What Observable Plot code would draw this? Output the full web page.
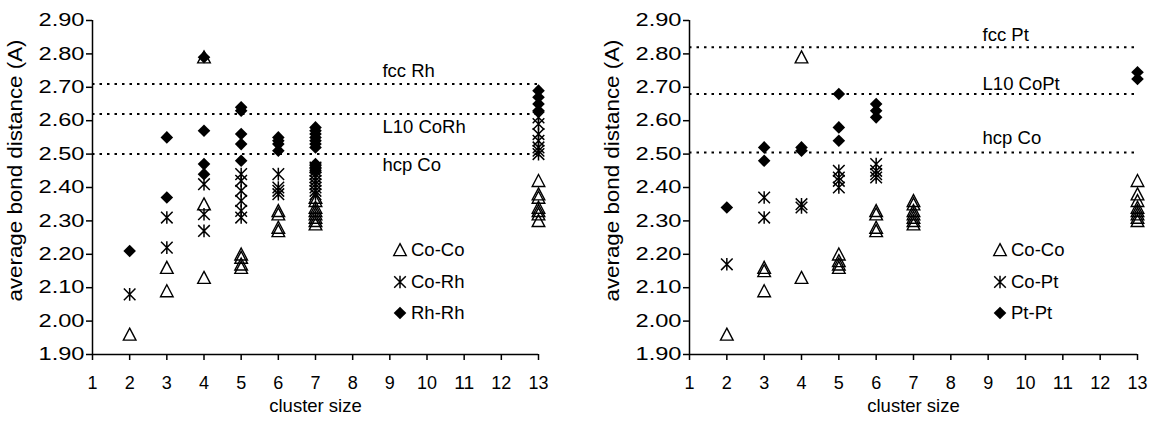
<!DOCTYPE html>
<html>
<head>
<meta charset="utf-8">
<script src="https://cdn.jsdelivr.net/npm/d3@7"></script>
<script src="https://cdn.jsdelivr.net/npm/@observablehq/plot@0.6"></script>
<style>
  html, body { margin: 0; padding: 0; background: #fff; }
  #wrap { position: relative; width: 1150px; height: 425px; display: flex; font-family: "Liberation Sans", Arial, sans-serif; }
  .panel { position: relative; width: 575px; height: 425px; }
  .leg { position: absolute; display: flex; align-items: center; font-size: 18.5px; color: #000; white-space: nowrap; }
  .leg svg { overflow: visible; }
</style>
</head>
<body>
<div id="wrap"><div class="panel" id="left"></div><div class="panel" id="right"></div></div>
<script>
// ---------- data ----------
const xTicks = [1,2,3,4,5,6,7,8,9,10,11,12,13];
const yTicks = [1.9,2.0,2.1,2.2,2.3,2.4,2.5,2.6,2.7,2.8,2.9];

// Co-Rh clusters: [cluster size, average bond distance]
const rhCoCo = [[2,1.96],[3,2.16],[3,2.09],[4,2.79],[4,2.35],[4,2.13],[5,2.20],[5,2.19],[5,2.17],[5,2.16],
  [6,2.33],[6,2.32],[6,2.28],[6,2.27],[7,2.37],[7,2.36],[7,2.34],[7,2.33],[7,2.32],[7,2.31],[7,2.30],[7,2.29],
  [13,2.42],[13,2.38],[13,2.37],[13,2.34],[13,2.33],[13,2.32],[13,2.30]];
const rhCoRh = [[2,2.08],[3,2.31],[3,2.22],[4,2.41],[4,2.32],[4,2.27],[5,2.44],[5,2.42],[5,2.39],[5,2.36],[5,2.33],[5,2.31],
  [6,2.44],[6,2.40],[6,2.39],[6,2.38],[7,2.46],[7,2.45],[7,2.44],[7,2.43],[7,2.42],[7,2.41],[7,2.40],[7,2.39],[7,2.38],
  [13,2.61],[13,2.59],[13,2.56],[13,2.54],[13,2.52],[13,2.51],[13,2.50]];
const rhRhRh = [[2,2.21],[3,2.55],[3,2.37],[4,2.79],[4,2.57],[4,2.47],[4,2.44],[5,2.64],[5,2.63],[5,2.56],[5,2.53],[5,2.48],
  [6,2.55],[6,2.54],[6,2.53],[6,2.51],[7,2.58],[7,2.57],[7,2.56],[7,2.55],[7,2.54],[7,2.53],[7,2.52],[7,2.47],[7,2.46],[7,2.45],
  [13,2.69],[13,2.67],[13,2.65],[13,2.63]];
const rhRefValues = [2.71, 2.62, 2.50];
const rhRefLabels = ["fcc Rh", "L10 CoRh", "hcp Co"];
const rhSeriesNames = ["Co-Co", "Co-Rh", "Rh-Rh"];

// Co-Pt clusters
const ptCoCo = [[2,1.96],[3,2.16],[3,2.15],[3,2.09],[4,2.79],[4,2.13],[5,2.20],[5,2.18],[5,2.17],[5,2.16],
  [6,2.33],[6,2.32],[6,2.28],[6,2.27],[7,2.36],[7,2.35],[7,2.33],[7,2.32],[7,2.31],[7,2.30],[7,2.29],
  [13,2.42],[13,2.38],[13,2.36],[13,2.34],[13,2.33],[13,2.32],[13,2.31],[13,2.30]];
const ptCoPt = [[2,2.17],[3,2.37],[3,2.31],[4,2.35],[4,2.34],[5,2.45],[5,2.43],[5,2.42],[5,2.40],
  [6,2.47],[6,2.45],[6,2.44],[6,2.43]];
const ptPtPt = [[2,2.34],[3,2.52],[3,2.48],[4,2.52],[4,2.51],[5,2.68],[5,2.58],[5,2.54],[6,2.65],[6,2.63],[6,2.61],
  [13,2.745],[13,2.725]];
const ptRefValues = [2.82, 2.68, 2.505];
const ptRefLabels = ["fcc Pt", "L10 CoPt", "hcp Co"];
const ptSeriesNames = ["Co-Co", "Co-Pt", "Pt-Pt"];

// ---------- symbols (Excel-like markers) ----------
const triSym = {draw(ctx, size){ const r = Math.sqrt(size/Math.PI); ctx.moveTo(0,-r); ctx.lineTo(r,0.9*r); ctx.lineTo(-r,0.9*r); ctx.closePath(); }};
const starSym = {draw(ctx, size){ const r = Math.sqrt(size/Math.PI); const a = 0.92*r;
  ctx.moveTo(0,-r); ctx.lineTo(0,r); ctx.moveTo(-a,-a); ctx.lineTo(a,a); ctx.moveTo(-a,a); ctx.lineTo(a,-a); }};
const diaSym = {draw(ctx, size){ const r = Math.sqrt(size/Math.PI); ctx.moveTo(0,-r); ctx.lineTo(r,0); ctx.lineTo(0,r); ctx.lineTo(-r,0); ctx.closePath(); }};
const symStyles = [
  {symbol: triSym, fill: "none", stroke: "black", strokeWidth: 1.4},
  {symbol: starSym, fill: "none", stroke: "black", strokeWidth: 1.5},
  {symbol: diaSym, fill: "black", stroke: "none", strokeWidth: 0}
];
const R = 6.3;

function makeChart(series, refValues, refLabels, refDy, refLabelX, marginLeft, marginRight) {
  const marks = [
    Plot.ruleY(refValues, {stroke: "black", strokeWidth: 2, strokeDasharray: "2.5,5"}),
    ...refValues.map((v, i) => Plot.text([refLabels[i]], {x: () => refLabelX, y: () => v, dy: refDy[i], textAnchor: "start", fontSize: 18.5})),
    Plot.ruleX([1], {stroke: "black", strokeWidth: 1.5}),
    Plot.ruleY([1.9], {stroke: "black", strokeWidth: 1.5}),
    Plot.axisX({ticks: xTicks, tickSize: 6, tickPadding: 16, tickFormat: d => String(d), label: null, strokeWidth: 1.5}),
    Plot.axisY({ticks: yTicks, tickSize: 6, tickPadding: 2, tickFormat: d3.format(".2f"), label: null, strokeWidth: 1.5}),
    Plot.text(["cluster size"], {frameAnchor: "bottom", dy: 57, fontSize: 18.5}),
    Plot.text(["average bond distance (A)"], {frameAnchor: "left", textAnchor: "middle", rotate: -90, dx: -77, dy: -17, fontSize: 20}),
    ...series.map((s, i) => Plot.dot(s, {x: d => d[0], y: d => d[1], r: R, ...symStyles[i]}))
  ];
  const svg = Plot.plot({
    width: 575, height: 425,
    marginLeft, marginRight, marginTop: 20, marginBottom: 71,
    x: {type: "linear", domain: [1, 13]},
    y: {type: "linear", domain: [1.9, 2.9]},
    style: {fontFamily: "'Liberation Sans', Arial, sans-serif", fontSize: "18px", color: "#000", background: "#fff", overflow: "visible"},
    marks
  });
  // the reference draws its tick labels slightly wide
  const s = d3.select(svg);
  s.selectAll('g[aria-label="y-axis tick label"] text')
    .attr("textLength", 46).attr("lengthAdjust", "spacingAndGlyphs");
  s.selectAll('g[aria-label="x-axis tick label"] text')
    .filter(function() { return this.textContent.length === 2; })
    .attr("textLength", 20).attr("lengthAdjust", "spacingAndGlyphs");
  s.selectAll('g[aria-label="text"] text')
    .filter(function() { return this.textContent.startsWith("average"); })
    .attr("textLength", 262).attr("lengthAdjust", "spacingAndGlyphs");
  return svg;
}

function addLegend(panel, names, cx, rows, textX) {
  names.forEach((name, i) => {
    const div = document.createElement("div");
    div.className = "leg";
    div.style.left = (cx - 8) + "px";
    div.style.top = (rows[i] - 11) + "px";
    div.style.height = "22px";
    const p = d3.path();
    symStyles[i].symbol.draw(p, Math.PI * R * R);
    const st = symStyles[i];
    div.innerHTML = `<svg width="16" height="22" viewBox="-8 -11 16 22"><path d="${p.toString()}" fill="${st.fill}" stroke="${st.stroke}" stroke-width="${st.strokeWidth}"/></svg>`;
    const span = document.createElement("span");
    span.textContent = name;
    span.style.marginLeft = (textX - cx - 8) + "px";
    div.appendChild(span);
    panel.appendChild(div);
  });
}

const left = document.getElementById("left");
const right = document.getElementById("right");
left.appendChild(makeChart([rhCoCo, rhCoRh, rhRhRh], rhRefValues, rhRefLabels, [-13, 13, 11], 8.8, 92, 37));
right.appendChild(makeChart([ptCoCo, ptCoPt, ptPtPt], ptRefValues, ptRefLabels, [-12, -10, -14], 8.85, 114, 13));
addLegend(left, rhSeriesNames, 400, [250, 282, 313], 411);
addLegend(right, ptSeriesNames, 1000 - 575, [250, 282, 313], 1011 - 575);
</script>
</body>
</html>
